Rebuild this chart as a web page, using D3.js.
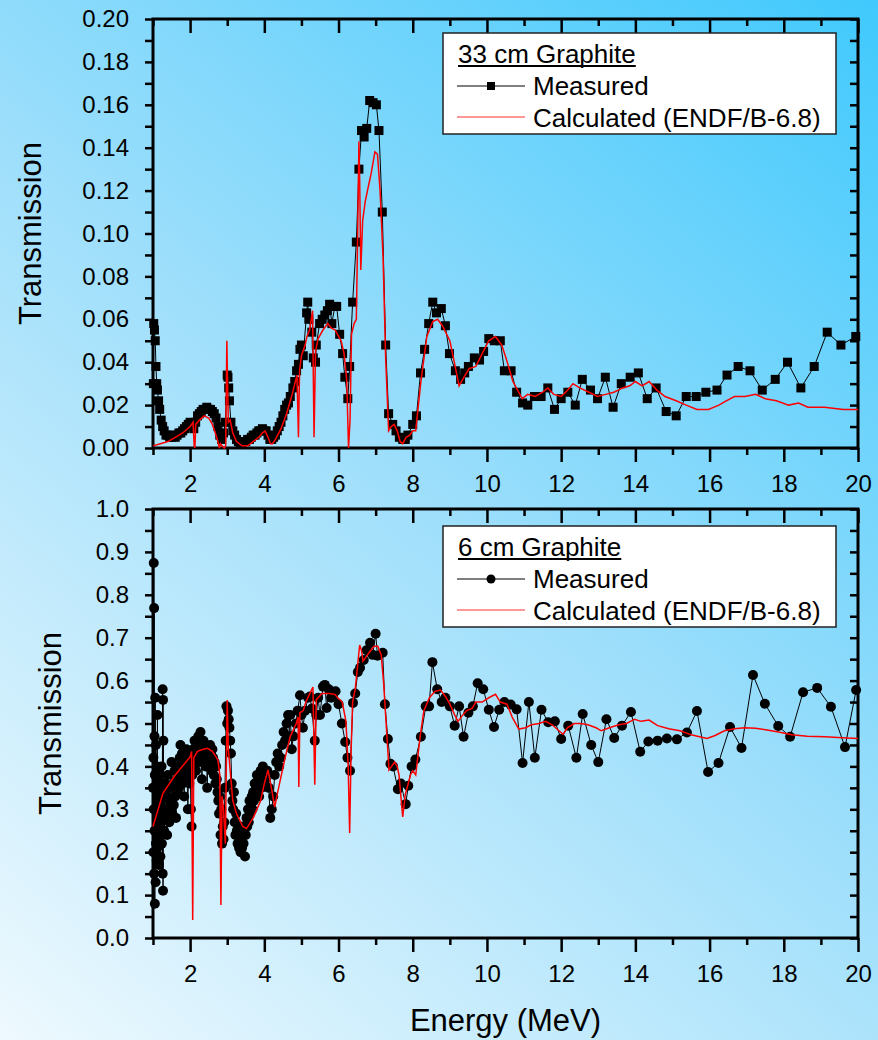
<!DOCTYPE html>
<html>
<head>
<meta charset="utf-8">
<script src="https://cdn.jsdelivr.net/npm/d3@7"></script>
<style>
body { margin: 0; }
svg text { font-family: "Liberation Sans", Arial, sans-serif; fill: #000; }
</style>
</head>
<body>
<div class="container"></div>
<script>
// energy (MeV), transmission
var topMeasured = [
    [1.01,0.030],[1.02,0.058],[1.04,0.055],[1.06,0.050],[1.08,0.038],[1.10,0.030],[1.12,0.027],[1.15,0.022],
    [1.18,0.018],[1.22,0.013],[1.26,0.010],[1.30,0.008],[1.35,0.006],[1.40,0.006],[1.45,0.005],[1.50,0.005],
    [1.55,0.006],[1.60,0.005],[1.65,0.006],[1.70,0.007],[1.75,0.007],[1.80,0.008],[1.85,0.009],[1.90,0.010],
    [1.95,0.011],[2.00,0.012],[2.05,0.011],[2.10,0.009],[2.15,0.012],[2.20,0.015],[2.25,0.016],[2.30,0.017],
    [2.35,0.018],[2.40,0.018],[2.45,0.019],[2.50,0.018],[2.55,0.018],[2.60,0.017],[2.65,0.016],[2.70,0.014],
    [2.75,0.010],[2.80,0.006],[2.85,0.004],[2.90,0.007],[2.95,0.012],[3.00,0.034],[3.02,0.033],[3.04,0.028],
    [3.06,0.022],[3.10,0.012],[3.15,0.008],[3.20,0.006],[3.25,0.004],[3.30,0.003],[3.35,0.002],[3.40,0.002],
    [3.45,0.003],[3.50,0.003],[3.55,0.004],[3.60,0.004],[3.65,0.005],[3.70,0.006],[3.75,0.006],[3.80,0.007],
    [3.85,0.008],[3.90,0.008],[3.95,0.009],[4.00,0.008],[4.05,0.008],[4.10,0.006],[4.15,0.004],[4.20,0.004],
    [4.25,0.005],[4.30,0.006],[4.35,0.008],[4.40,0.010],[4.45,0.012],[4.50,0.015],[4.55,0.018],[4.60,0.020],
    [4.65,0.021],[4.70,0.024],[4.77,0.028],[4.82,0.031],[4.87,0.036],[4.92,0.039],[4.96,0.046],[5.00,0.048],
    [5.05,0.043],[5.14,0.063],[5.17,0.068],[5.20,0.060],[5.28,0.054],[5.32,0.042],[5.38,0.040],[5.40,0.048],
    [5.49,0.058],[5.56,0.060],[5.63,0.062],[5.70,0.064],[5.76,0.067],[5.82,0.058],[5.90,0.066],[5.95,0.066],
    [6.03,0.053],[6.11,0.044],[6.17,0.033],[6.25,0.023],[6.30,0.038],[6.38,0.068],[6.48,0.096],[6.55,0.130],
    [6.62,0.148],[6.69,0.145],[6.76,0.149],[6.84,0.162],[6.93,0.161],[7.02,0.160],[7.09,0.148],[7.18,0.110],
    [7.27,0.048],[7.35,0.016],[7.46,0.011],[7.55,0.008],[7.64,0.005],[7.73,0.004],[7.80,0.004],[7.87,0.006],
    [8.00,0.011],[8.10,0.015],[8.21,0.035],[8.32,0.046],[8.43,0.058],[8.54,0.068],[8.64,0.063],[8.77,0.065],
    [8.88,0.057],[8.99,0.044],[9.15,0.036],[9.29,0.032],[9.40,0.035],[9.50,0.038],[9.66,0.042],[9.80,0.041],
    [9.91,0.045],[10.05,0.051],[10.20,0.050],[10.36,0.050],[10.47,0.036],[10.65,0.036],[10.80,0.026],[10.96,0.021],
    [11.10,0.020],[11.28,0.024],[11.46,0.024],[11.64,0.028],[11.82,0.018],[12.00,0.023],[12.18,0.026],[12.38,0.020],
    [12.57,0.032],[12.79,0.027],[12.98,0.023],[13.19,0.033],[13.40,0.019],[13.62,0.030],[13.86,0.033],[14.08,0.035],
    [14.32,0.023],[14.56,0.028],[14.83,0.017],[15.10,0.015],[15.37,0.024],[15.64,0.024],[15.90,0.026],[16.20,0.027],
    [16.47,0.034],[16.77,0.038],[17.09,0.036],[17.42,0.027],[17.77,0.032],[18.10,0.040],[18.46,0.028],[18.82,0.038],
    [19.17,0.054],[19.54,0.048],[19.94,0.052]
];

var topCalculated = [
    [1.00,0.001],[1.20,0.002],[1.40,0.003],[1.60,0.005],[1.80,0.007],[2.00,0.010],[2.08,0.012],[2.11,0.001],
    [2.13,0.000],[2.15,0.011],[2.25,0.013],[2.38,0.015],[2.50,0.014],[2.60,0.011],[2.68,0.007],[2.75,0.003],
    [2.79,0.000],[2.82,0.002],[2.86,0.001],[2.92,0.000],[2.96,0.001],[2.99,0.050],[3.01,0.030],[3.03,0.012],
    [3.08,0.013],[3.15,0.007],[3.25,0.003],[3.40,0.001],[3.55,0.001],[3.70,0.003],[3.85,0.005],[3.95,0.007],
    [4.02,0.008],[4.10,0.005],[4.17,0.002],[4.22,0.002],[4.30,0.004],[4.45,0.009],[4.60,0.016],[4.75,0.025],
    [4.88,0.034],[4.92,0.005],[4.95,0.036],[5.00,0.043],[5.10,0.048],[5.15,0.052],[5.22,0.055],[5.30,0.064],
    [5.34,0.005],[5.38,0.045],[5.45,0.051],[5.58,0.055],[5.71,0.058],[5.80,0.056],[5.91,0.055],[6.00,0.052],
    [6.07,0.050],[6.15,0.044],[6.22,0.032],[6.27,0.000],[6.31,0.013],[6.35,0.053],[6.42,0.058],[6.48,0.060],
    [6.52,0.105],[6.55,0.143],[6.57,0.125],[6.60,0.083],[6.65,0.106],[6.72,0.115],[6.78,0.120],[6.88,0.128],
    [6.98,0.138],[7.05,0.137],[7.12,0.120],[7.20,0.089],[7.27,0.042],[7.35,0.008],[7.42,0.010],[7.50,0.011],
    [7.58,0.008],[7.66,0.003],[7.73,0.002],[7.82,0.005],[7.92,0.006],[8.00,0.008],[8.08,0.008],[8.22,0.031],
    [8.38,0.052],[8.54,0.059],[8.67,0.060],[8.80,0.057],[9.00,0.050],[9.12,0.040],[9.25,0.029],[9.38,0.033],
    [9.52,0.037],[9.70,0.038],[9.87,0.044],[10.05,0.050],[10.23,0.052],[10.40,0.048],[10.53,0.041],[10.70,0.031],
    [10.95,0.023],[11.10,0.025],[11.30,0.024],[11.50,0.026],[11.64,0.028],[11.80,0.025],[12.00,0.024],[12.18,0.027],
    [12.32,0.030],[12.50,0.028],[12.75,0.026],[12.98,0.024],[13.20,0.025],[13.42,0.026],[13.66,0.028],[13.85,0.029],
    [14.00,0.031],[14.18,0.029],[14.37,0.031],[14.58,0.027],[14.80,0.024],[15.10,0.022],[15.37,0.020],[15.66,0.018],
    [15.97,0.018],[16.25,0.020],[16.45,0.022],[16.67,0.024],[16.95,0.024],[17.24,0.025],[17.50,0.023],[17.80,0.022],
    [18.13,0.020],[18.40,0.021],[18.65,0.019],[19.10,0.019],[19.60,0.018],[20.00,0.018]
];

var bottomMeasured = [
    [1.00,0.35],[1.01,0.20],[1.01,0.42],[1.02,0.874],[1.02,0.30],[1.03,0.769],[1.03,0.15],[1.04,0.25],
    [1.04,0.47],[1.05,0.08],[1.05,0.38],[1.06,0.20],[1.06,0.56],[1.07,0.30],[1.07,0.13],[1.08,0.45],
    [1.08,0.22],[1.09,0.35],[1.10,0.18],[1.10,0.40],[1.11,0.28],[1.12,0.52],[1.12,0.21],[1.13,0.33],
    [1.14,0.26],[1.15,0.38],[1.16,0.17],[1.17,0.30],[1.18,0.24],[1.19,0.36],[1.20,0.19],[1.21,0.32],
    [1.22,0.27],[1.23,0.40],[1.24,0.22],[1.25,0.34],[1.26,0.58],[1.26,0.15],[1.27,0.555],[1.27,0.11],
    [1.28,0.46],[1.29,0.30],[1.30,0.25],[1.32,0.36],[1.34,0.28],[1.36,0.33],[1.38,0.24],[1.40,0.38],
    [1.42,0.30],[1.44,0.27],[1.46,0.35],[1.48,0.32],[1.50,0.41],[1.52,0.29],[1.54,0.36],[1.56,0.31],
    [1.58,0.39],[1.60,0.33],[1.62,0.28],[1.64,0.37],[1.66,0.34],[1.68,0.40],[1.70,0.35],[1.72,0.42],
    [1.74,0.45],[1.76,0.38],[1.78,0.43],[1.80,0.36],[1.82,0.40],[1.84,0.33],[1.86,0.42],[1.88,0.39],
    [1.90,0.44],[1.92,0.37],[1.94,0.30],[1.96,0.41],[1.98,0.36],[2.00,0.43],[2.02,0.30],[2.04,0.26],
    [2.06,0.38],[2.08,0.44],[2.10,0.40],[2.12,0.46],[2.14,0.42],[2.16,0.39],[2.18,0.45],[2.20,0.43],
    [2.22,0.47],[2.24,0.41],[2.26,0.44],[2.28,0.48],[2.30,0.42],[2.32,0.37],[2.34,0.44],[2.36,0.46],
    [2.38,0.43],[2.40,0.45],[2.42,0.40],[2.44,0.44],[2.46,0.35],[2.48,0.42],[2.50,0.44],[2.52,0.41],
    [2.54,0.45],[2.56,0.43],[2.58,0.39],[2.60,0.44],[2.62,0.42],[2.64,0.38],[2.66,0.41],[2.68,0.36],
    [2.70,0.40],[2.72,0.37],[2.74,0.34],[2.76,0.32],[2.78,0.29],[2.80,0.33],[2.82,0.24],[2.84,0.30],
    [2.86,0.22],[2.88,0.26],[2.90,0.23],[2.92,0.27],[2.94,0.35],[2.96,0.46],[2.98,0.54],[3.00,0.50],
    [3.02,0.53],[3.04,0.51],[3.06,0.49],[3.08,0.46],[3.10,0.43],[3.12,0.36],[3.14,0.32],[3.16,0.30],
    [3.18,0.34],[3.20,0.27],[3.22,0.24],[3.24,0.29],[3.26,0.25],[3.28,0.22],[3.30,0.26],[3.32,0.21],
    [3.34,0.24],[3.36,0.20],[3.38,0.23],[3.40,0.21],[3.42,0.26],[3.44,0.22],[3.46,0.25],[3.48,0.19],
    [3.50,0.24],[3.52,0.28],[3.54,0.26],[3.56,0.30],[3.58,0.27],[3.60,0.32],[3.62,0.29],[3.64,0.31],
    [3.66,0.33],[3.68,0.30],[3.70,0.34],[3.72,0.32],[3.74,0.36],[3.76,0.33],[3.78,0.35],[3.80,0.38],
    [3.82,0.34],[3.84,0.37],[3.86,0.33],[3.88,0.36],[3.90,0.39],[3.92,0.35],[3.94,0.38],[3.96,0.40],
    [3.98,0.36],[4.00,0.39],[4.04,0.37],[4.08,0.39],[4.12,0.35],[4.16,0.28],[4.20,0.30],[4.24,0.33],
    [4.28,0.38],[4.32,0.41],[4.36,0.43],[4.40,0.40],[4.44,0.42],[4.48,0.45],[4.52,0.48],[4.56,0.46],
    [4.60,0.50],[4.64,0.52],[4.68,0.47],[4.70,0.52],[4.74,0.44],[4.78,0.47],[4.85,0.50],[4.90,0.53],
    [4.96,0.566],[5.00,0.52],[5.04,0.49],[5.10,0.53],[5.18,0.56],[5.23,0.563],[5.28,0.535],[5.36,0.46],
    [5.40,0.52],[5.45,0.56],[5.50,0.52],[5.58,0.586],[5.63,0.59],[5.68,0.536],[5.74,0.58],[5.80,0.56],
    [5.85,0.563],[5.92,0.575],[6.00,0.545],[6.09,0.50],[6.18,0.457],[6.24,0.42],[6.31,0.39],[6.39,0.548],
    [6.45,0.57],[6.52,0.62],[6.58,0.63],[6.68,0.648],[6.76,0.671],[6.85,0.688],[6.92,0.66],[7.00,0.709],
    [7.05,0.658],[7.19,0.665],[7.25,0.545],[7.33,0.464],[7.40,0.406],[7.47,0.40],[7.60,0.347],[7.68,0.36],
    [7.81,0.312],[7.88,0.355],[7.97,0.40],[8.07,0.416],[8.22,0.469],[8.35,0.54],[8.44,0.54],[8.53,0.643],
    [8.66,0.58],[8.78,0.55],[8.88,0.56],[9.00,0.54],[9.13,0.495],[9.25,0.54],[9.37,0.469],[9.50,0.525],
    [9.62,0.54],[9.75,0.594],[9.90,0.58],[10.05,0.532],[10.19,0.492],[10.33,0.532],[10.47,0.55],[10.64,0.544],
    [10.80,0.533],[10.96,0.408],[11.13,0.55],[11.29,0.42],[11.47,0.532],[11.65,0.503],[11.83,0.505],[12.00,0.464],
    [12.19,0.495],[12.41,0.42],[12.58,0.522],[12.81,0.45],[13.00,0.41],[13.22,0.51],[13.43,0.466],[13.64,0.495],
    [13.88,0.527],[14.13,0.434],[14.35,0.458],[14.60,0.46],[14.85,0.465],[15.12,0.463],[15.39,0.479],[15.66,0.529],
    [15.96,0.387],[16.24,0.408],[16.55,0.492],[16.86,0.443],[17.17,0.613],[17.49,0.546],[17.85,0.494],[18.17,0.469],
    [18.52,0.573],[18.90,0.583],[19.27,0.539],[19.65,0.445],[19.95,0.578]
];

var bottomCalculated = [
    [1.00,0.26],[1.27,0.338],[1.60,0.38],[2.00,0.422],[2.04,0.435],[2.07,0.042],[2.10,0.42],[2.20,0.435],
    [2.35,0.44],[2.47,0.442],[2.60,0.435],[2.75,0.415],[2.80,0.38],[2.83,0.077],[2.86,0.33],[2.90,0.30],
    [2.95,0.22],[3.00,0.555],[3.03,0.44],[3.08,0.39],[3.15,0.32],[3.25,0.29],[3.42,0.26],[3.52,0.255],
    [3.70,0.28],[3.90,0.32],[4.00,0.36],[4.10,0.392],[4.18,0.355],[4.28,0.305],[4.36,0.34],[4.56,0.42],
    [4.70,0.47],[4.86,0.50],[4.91,0.515],[4.93,0.352],[4.96,0.525],[5.05,0.53],[5.12,0.55],[5.20,0.565],
    [5.31,0.585],[5.36,0.357],[5.40,0.555],[5.55,0.57],[5.75,0.57],[5.90,0.568],[5.98,0.56],[6.10,0.55],
    [6.20,0.505],[6.26,0.40],[6.30,0.245],[6.34,0.44],[6.38,0.55],[6.45,0.58],[6.57,0.683],[6.62,0.67],
    [6.66,0.645],[6.70,0.65],[6.82,0.665],[6.96,0.68],[7.06,0.68],[7.15,0.66],[7.22,0.59],[7.29,0.49],
    [7.36,0.392],[7.43,0.40],[7.51,0.41],[7.58,0.40],[7.63,0.38],[7.73,0.282],[7.80,0.335],[7.94,0.38],
    [8.00,0.39],[8.08,0.38],[8.20,0.47],[8.30,0.53],[8.45,0.56],[8.60,0.575],[8.75,0.578],[8.88,0.563],
    [9.00,0.545],[9.13,0.52],[9.22,0.505],[9.35,0.52],[9.45,0.53],[9.60,0.535],[9.70,0.55],[9.87,0.55],
    [10.05,0.56],[10.23,0.568],[10.36,0.55],[10.54,0.545],[10.68,0.515],[10.86,0.487],[11.04,0.49],[11.20,0.497],
    [11.40,0.50],[11.58,0.505],[11.76,0.497],[11.94,0.483],[12.05,0.475],[12.17,0.49],[12.35,0.50],[12.53,0.50],
    [12.72,0.497],[12.94,0.49],[13.08,0.483],[13.30,0.49],[13.55,0.497],[13.76,0.50],[13.98,0.51],[14.15,0.505],
    [14.37,0.508],[14.60,0.495],[14.90,0.488],[15.20,0.483],[15.53,0.473],[15.93,0.465],[16.15,0.472],[16.40,0.483],
    [16.67,0.488],[16.94,0.49],[17.24,0.489],[17.55,0.485],[17.86,0.48],[18.22,0.474],[18.63,0.47],[19.12,0.469],
    [19.57,0.467],[20.00,0.465]
];

var xMajorTicks = [2, 4, 6, 8, 10, 12, 14, 16, 18, 20];
var xMinorTicks = [1, 3, 5, 7, 9, 11, 13, 15, 17, 19];
var topYTicks = d3.range(0, 21).map(function (i) { return i / 100; });
var bottomYTicks = d3.range(0, 21).map(function (i) { return i / 20; });
var legendLabels = ['Measured', 'Calculated (ENDF/B-6.8)'];
var panelTitles = ['33 cm Graphite', '6 cm Graphite'];

var WIDTH = 878, HEIGHT = 1040;
var LEFT = 153, RIGHT = 858;

var svg = d3.select('.container').append('svg')
    .attr('width', WIDTH)
    .attr('height', HEIGHT);

var grad = svg.append('defs').append('linearGradient')
    .attr('id', 'bg')
    .attr('gradientUnits', 'userSpaceOnUse')
    .attr('x1', 0).attr('y1', HEIGHT).attr('x2', WIDTH).attr('y2', 0);
grad.append('stop').attr('offset', '0').attr('stop-color', '#eef9fe');
grad.append('stop').attr('offset', '0.5').attr('stop-color', '#9fdffb');
grad.append('stop').attr('offset', '1').attr('stop-color', '#40c9fd');

svg.append('rect').attr('width', WIDTH).attr('height', HEIGHT).attr('fill', 'url(#bg)');

var translate = function (x, y) {
    return 'translate(' + x + ',' + y + ')';
};

var styleAxis = function (g) {
    g.select('.domain').remove();
    g.selectAll('.tick line').attr('stroke', '#000').attr('stroke-width', 2.5);
    g.selectAll('.tick text').attr('font-size', 24).attr('font-family', '"Liberation Sans", Arial, sans-serif');
};

var drawPanel = function (cfg) {
    var x = d3.scaleLinear().domain([1, 20]).range([LEFT, RIGHT]);
    var y = d3.scaleLinear().domain([0, cfg.yMax]).range([cfg.bottom, cfg.top]);
    var g = svg.append('g');

    // axes
    g.append('g').attr('transform', translate(0, cfg.bottom))
        .call(d3.axisBottom(x).tickValues(xMajorTicks).tickSize(14).tickPadding(13).tickFormat(d3.format('d')))
        .call(styleAxis);
    g.append('g').attr('transform', translate(0, cfg.bottom))
        .call(d3.axisBottom(x).tickValues(xMinorTicks).tickSize(7).tickFormat(''))
        .call(styleAxis);
    g.append('g').attr('transform', translate(0, cfg.top))
        .call(d3.axisTop(x).tickValues(xMajorTicks).tickSize(-14).tickFormat(''))
        .call(styleAxis);
    g.append('g').attr('transform', translate(0, cfg.top))
        .call(d3.axisTop(x).tickValues(xMinorTicks).tickSize(-7).tickFormat(''))
        .call(styleAxis);
    g.append('g').attr('transform', translate(LEFT, 0))
        .call(d3.axisLeft(y).tickValues(cfg.yTicks).tickSize(8).tickPadding(16)
            .tickFormat(function (d, i) { return i % 2 === 0 ? d3.format(cfg.fmt)(d) : ''; }))
        .call(styleAxis);
    g.append('g').attr('transform', translate(RIGHT, 0))
        .call(d3.axisRight(y).tickValues(cfg.yTicks).tickSize(-8).tickFormat(''))
        .call(styleAxis);

    g.append('rect')
        .attr('x', LEFT).attr('y', cfg.top)
        .attr('width', RIGHT - LEFT).attr('height', cfg.bottom - cfg.top)
        .attr('fill', 'none').attr('stroke', '#000').attr('stroke-width', 3);

    g.append('text')
        .attr('transform', translate(cfg.titleX, (cfg.top + cfg.bottom) / 2) + ' rotate(-90)')
        .attr('text-anchor', 'middle')
        .attr('font-size', 31)
        .text('Transmission');

    // data
    var line = d3.line()
        .x(function (d) { return x(d[0]); })
        .y(function (d) { return y(d[1]); });

    var plot = g.append('g');
    plot.append('path').datum(cfg.measured)
        .attr('d', line).attr('fill', 'none').attr('stroke', '#000').attr('stroke-width', 1);

    if (cfg.marker === 'square') {
        plot.selectAll('rect.pt').data(cfg.measured).enter().append('rect')
            .attr('class', 'pt')
            .attr('x', function (d) { return x(d[0]) - 4.5; })
            .attr('y', function (d) { return y(d[1]) - 4.5; })
            .attr('width', 9).attr('height', 9).attr('fill', '#000');
    } else {
        plot.selectAll('circle.pt').data(cfg.measured).enter().append('circle')
            .attr('class', 'pt')
            .attr('cx', function (d) { return x(d[0]); })
            .attr('cy', function (d) { return y(d[1]); })
            .attr('r', 5).attr('fill', '#000');
    }

    plot.append('path').datum(cfg.calculated)
        .attr('d', line).attr('fill', 'none').attr('stroke', '#ff0000').attr('stroke-width', 1.5);

    // legend
    var lg = g.append('g').attr('transform', translate(443, cfg.legendTop));
    lg.append('rect').attr('width', 393).attr('height', 101)
        .attr('fill', '#fff').attr('stroke', '#222').attr('stroke-width', 1.5);
    var title = lg.append('text').attr('x', 15).attr('y', 30).attr('font-size', 26).text(cfg.title);
    var titleWidth = title.node().getComputedTextLength();
    lg.append('line').attr('x1', 15).attr('x2', 15 + titleWidth).attr('y1', 33).attr('y2', 33)
        .attr('stroke', '#000').attr('stroke-width', 2);
    lg.append('line').attr('x1', 14).attr('x2', 82).attr('y1', 53).attr('y2', 53)
        .attr('stroke', '#000').attr('stroke-width', 1);
    if (cfg.marker === 'square') {
        lg.append('rect').attr('x', 44).attr('y', 49).attr('width', 8).attr('height', 8).attr('fill', '#000');
    } else {
        lg.append('circle').attr('cx', 48).attr('cy', 53).attr('r', 4.5).attr('fill', '#000');
    }
    lg.append('line').attr('x1', 14).attr('x2', 82).attr('y1', 84).attr('y2', 84)
        .attr('stroke', '#ff3030').attr('stroke-width', 1.2);
    lg.append('text').attr('x', 90).attr('y', 62).attr('font-size', 26).text(legendLabels[0]);
    lg.append('text').attr('x', 90).attr('y', 94).attr('font-size', 26).text(legendLabels[1]);
};

drawPanel({
    top: 19, bottom: 448, yMax: 0.2, yTicks: topYTicks, fmt: '.2f', titleX: 41,
    measured: topMeasured, calculated: topCalculated, marker: 'square',
    legendTop: 33, title: panelTitles[0]
});

drawPanel({
    top: 509, bottom: 938, yMax: 1.0, yTicks: bottomYTicks, fmt: '.1f', titleX: 61,
    measured: bottomMeasured, calculated: bottomCalculated, marker: 'circle',
    legendTop: 526, title: panelTitles[1]
});

svg.append('text')
    .attr('x', (LEFT + RIGHT) / 2).attr('y', 1031)
    .attr('text-anchor', 'middle')
    .attr('font-size', 31)
    .text('Energy (MeV)');
</script>
</body>
</html>
